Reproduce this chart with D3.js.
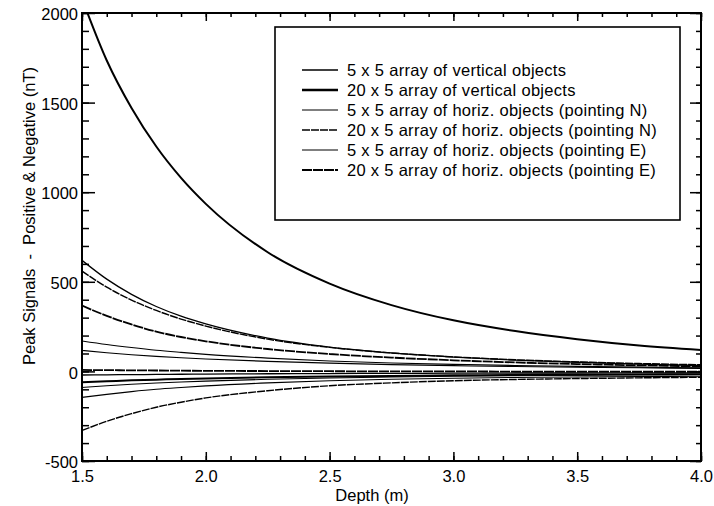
<!DOCTYPE html>
<html><head><meta charset="utf-8">
<script src="https://cdn.jsdelivr.net/npm/d3@7"></script>
<style>
body{margin:0;background:#fff;}
text{font-family:"Liberation Sans",Arial,Helvetica,sans-serif;fill:#000;}
</style></head>
<body><svg id="c" width="714" height="506"></svg>
<script>
// ---- data ----
const depths = [1.5,1.6,1.7,1.8,1.9,2.0,2.25,2.5,2.75,3.0,3.25,3.5,3.75,4.0];
const seriesNames = [
  "5 x 5 array of vertical objects",
  "20 x 5 array of vertical objects",
  "5 x 5 array of horiz. objects (pointing N)",
  "20 x 5 array of horiz. objects (pointing N)",
  "5 x 5 array of horiz. objects (pointing E)",
  "20 x 5 array of horiz. objects (pointing E)"
];
// positive peak signals (nT)
const pos0 = [620,515,430,362,308,265,186,136,103,80,63,51,41,33];
const pos1 = [2080,1735,1470,1255,1080,935,665,490,370,285,225,180,145,120];
const pos2 = [170,150,133,118,106,95,74,58,47,39,33,28,24,20];
const pos3 = [560,470,398,340,292,253,180,134,103,81,65,53,44,37];
const pos4 = [117,104,93,84,76,69,56,46,38,32,27,23,20,17];
const pos5 = [367,310,262,222,192,168,125,97,77,62,50,41,34,28];
// negative peak signals (nT)
const neg0 = [-20,-19,-18,-17,-16,-15,-13,-12,-11,-10,-9,-9,-8,-8];
const neg1 = [-60,-55,-50,-46,-42,-39,-33,-28,-25,-22,-20,-18,-17,-16];
const neg2 = [-145,-128,-113,-100,-90,-81,-64,-52,-44,-38,-34,-31,-29,-27];
const neg3 = [-330,-278,-236,-200,-172,-148,-108,-80,-64,-52,-45,-40,-36,-33];
const neg4 = [-90,-80,-72,-65,-59,-54,-44,-37,-31,-27,-24,-21,-19,-17];
const neg5 = [8,7,6,5,4,3,2,1,0,0,-1,-1,-2,-2];
const xTickLabels = ["1.5","2.0","2.5","3.0","3.5","4.0"];
const yTickLabels = ["-500","0","500","1000","1500","2000"];

const posAll = [pos0,pos1,pos2,pos3,pos4,pos5];
const negAll = [neg0,neg1,neg2,neg3,neg4,neg5];
const styles = [
  {w:1.3, lw:1.3, dash:null},
  {w:2.0, lw:2.6, dash:null},
  {w:1.1, lw:1.1, dash:null},
  {w:1.4, lw:1.5, dash:"8,1"},
  {w:1.1, lw:1.1, dash:null},
  {w:1.8, lw:2.1, dash:"10,1"}
];

const svg = d3.select("#c");
const L=82, R=701, T=13, B=461;
const x = d3.scaleLinear().domain([1.5,4.0]).range([L,R]);
const y = d3.scaleLinear().domain([-500,2000]).range([B,T]);

svg.append("clipPath").attr("id","clip").append("rect")
  .attr("x",L).attr("y",T).attr("width",R-L).attr("height",B-T);

const line = d3.line().x((d,i)=>x(depths[i])).y(d=>y(d)).curve(d3.curveMonotoneX);
const g = svg.append("g").attr("clip-path","url(#clip)");
seriesNames.forEach((n,i)=>{
  [posAll[i],negAll[i]].forEach(arr=>{
    g.append("path").attr("d",line(arr)).attr("fill","none")
      .attr("stroke","#000").attr("stroke-width",styles[i].w)
      .attr("stroke-dasharray",styles[i].dash);
  });
});

// axes with inward ticks
const fs = "16.5px";
const xMinor = d3.range(15,41).map(v=>v/10);
const yMinor = d3.range(-500,2001,100);
// bottom
svg.append("g").attr("transform",`translate(0,${B})`)
  .call(d3.axisBottom(x).tickValues(xMinor).tickSize(-5).tickFormat(""))
  .call(a=>a.select(".domain").remove());
svg.append("g").attr("transform",`translate(0,${B})`)
  .call(d3.axisBottom(x).tickValues(xTickLabels.map(Number)).tickSize(-9)
    .tickFormat((d,i)=>xTickLabels[i]).tickPadding(9))
  .call(a=>a.select(".domain").remove())
  .call(a=>a.selectAll("text").attr("font-size",fs));
// top
svg.append("g").attr("transform",`translate(0,${T})`)
  .call(d3.axisTop(x).tickValues(xMinor).tickSize(-4).tickFormat(""))
  .call(a=>a.select(".domain").remove());
svg.append("g").attr("transform",`translate(0,${T})`)
  .call(d3.axisTop(x).tickValues(xTickLabels.map(Number)).tickSize(-8).tickFormat(""))
  .call(a=>a.select(".domain").remove());
// left
svg.append("g").attr("transform",`translate(${L},0)`)
  .call(d3.axisLeft(y).tickValues(yMinor).tickSize(-7).tickFormat(""))
  .call(a=>a.select(".domain").remove());
svg.append("g").attr("transform",`translate(${L},0)`)
  .call(d3.axisLeft(y).tickValues(yTickLabels.map(Number)).tickSize(-13)
    .tickFormat((d,i)=>yTickLabels[i]))
  .call(a=>a.select(".domain").remove())
  .call(a=>a.selectAll("text").attr("font-size",fs).attr("x",-4).attr("dy","0.4em"));
// right
svg.append("g").attr("transform",`translate(${R},0)`)
  .call(d3.axisRight(y).tickValues(yMinor).tickSize(-5).tickFormat(""))
  .call(a=>a.select(".domain").remove());
svg.append("g").attr("transform",`translate(${R},0)`)
  .call(d3.axisRight(y).tickValues(yTickLabels.map(Number)).tickSize(-11).tickFormat(""))
  .call(a=>a.select(".domain").remove());
svg.selectAll(".tick line").attr("stroke","#000").attr("stroke-width",1.5);

// frame
svg.append("rect").attr("x",L).attr("y",T).attr("width",R-L).attr("height",B-T)
  .attr("fill","none").attr("stroke","#000").attr("stroke-width",2);

// axis titles
svg.append("text").attr("x",372).attr("y",501).attr("text-anchor","middle")
  .attr("font-size",fs).text("Depth (m)");
svg.append("text").attr("transform","translate(35,216) rotate(-90)")
  .attr("text-anchor","middle").attr("font-size",fs).attr("xml:space","preserve")
  .text("Peak Signals  -  Positive & Negative (nT)");

// legend
const lg = svg.append("g");
lg.append("rect").attr("x",275).attr("y",27).attr("width",405).attr("height",193)
  .attr("fill","#fff").attr("stroke","#000").attr("stroke-width",1.6);
seriesNames.forEach((n,i)=>{
  const yy = 70 + i*20;
  lg.append("line").attr("x1",302).attr("x2",338).attr("y1",yy).attr("y2",yy)
    .attr("stroke","#000").attr("stroke-width",styles[i].lw)
    .attr("stroke-dasharray",styles[i].dash);
  lg.append("text").attr("x",347).attr("y",yy).attr("dy","0.36em")
    .attr("font-size","16.5px").attr("letter-spacing","0.3px").text(n);
});
</script></body></html>
